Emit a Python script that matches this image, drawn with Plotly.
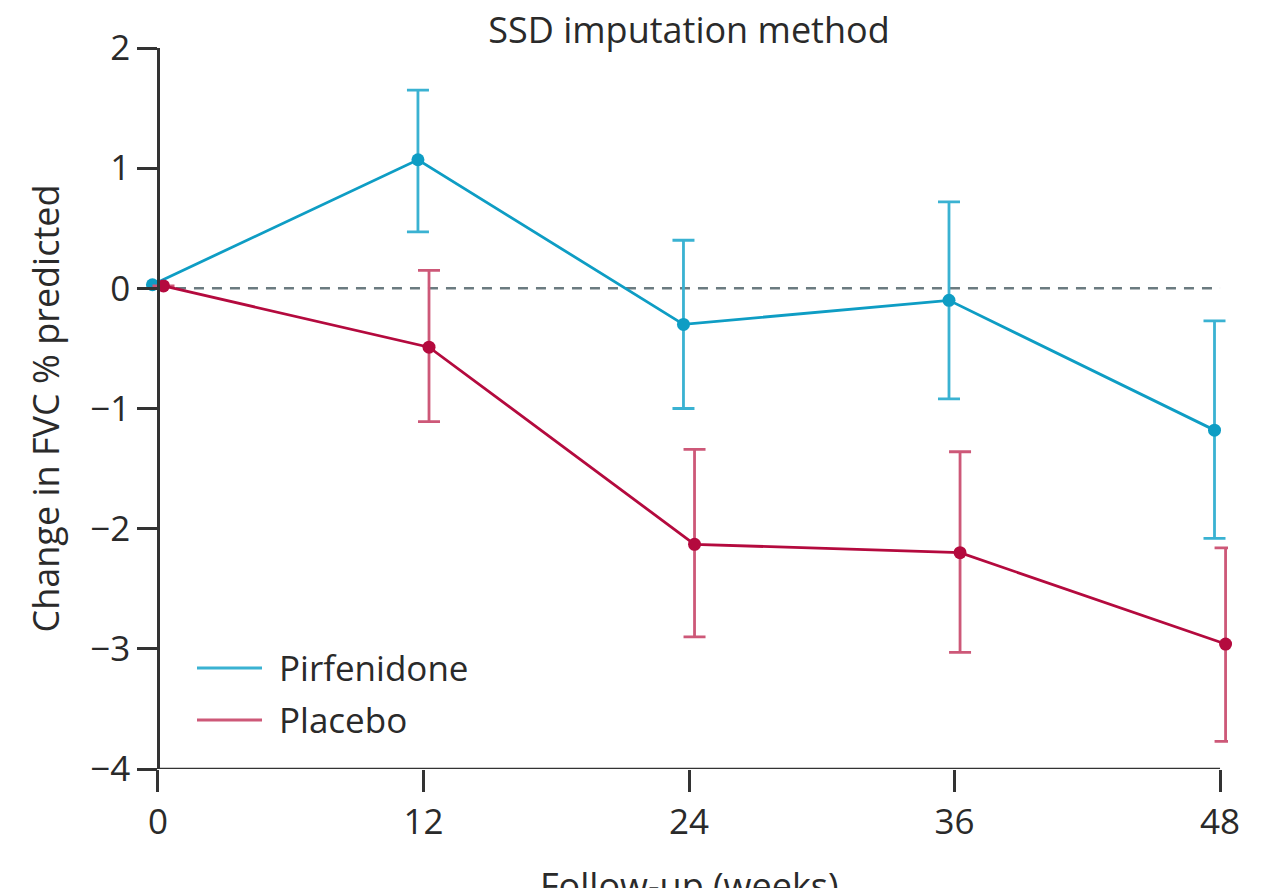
import plotly.graph_objects as go

weeks = [0, 12, 24, 36, 48]
offset = 0.25

pirf_mean = [0.03, 1.07, -0.30, -0.10, -1.18]
pirf_upper = [0.03, 1.65, 0.40, 0.72, -0.27]
pirf_lower = [0.03, 0.47, -1.00, -0.92, -2.08]

plac_mean = [0.02, -0.49, -2.13, -2.20, -2.96]
plac_upper = [0.02, 0.15, -1.34, -1.36, -2.16]
plac_lower = [0.02, -1.11, -2.90, -3.03, -3.77]

x_ticks = [0, 12, 24, 36, 48]
y_ticks = [2, 1, 0, -1, -2, -3, -4]

PIRF_LINE = "#0E9DC4"
PIRF_ERR = "#3AB2D2"
PLAC_LINE = "#B40A3E"
PLAC_ERR = "#CD5878"
AXIS_C = "#333333"
TEXT_C = "#2a2a2a"
FONT = "Open Sans"
PAD = 0.36

fig = go.Figure()

def add_series(name, mean, upper, lower, shift, line_c, err_c):
    xs = [w + shift for w in weeks]
    plus = [u - m for u, m in zip(upper, mean)]
    minus = [m - l for m, l in zip(mean, lower)]
    fig.add_trace(go.Scatter(
        x=xs, y=mean, mode="lines+markers", name=name,
        line=dict(color=line_c, width=2.8),
        marker=dict(color=line_c, size=13),
        error_y=dict(type="data", symmetric=False, array=plus, arrayminus=minus,
                     color=err_c, thickness=2.8, width=11),
        cliponaxis=False, showlegend=False,
    ))

add_series("Pirfenidone", pirf_mean, pirf_upper, pirf_lower, -offset, PIRF_LINE, PIRF_ERR)
add_series("Placebo", plac_mean, plac_upper, plac_lower, offset, PLAC_LINE, PLAC_ERR)

# zero reference line
fig.add_shape(type="line", xref="x", yref="y", x0=0, x1=48, y0=0, y1=0,
              line=dict(color="#6B7B80", width=2.5, dash="10px,8px"), layer="below")
# x axis baseline from 0 to 48
fig.add_shape(type="line", xref="x", yref="y", x0=0, x1=48, y0=-4, y1=-4,
              line=dict(color=AXIS_C, width=2.5), layer="above")

# manual legend
legend_items = [("Pirfenidone", PIRF_ERR, 0.1401), ("Placebo", PLAC_ERR, 0.068)]
for label, col, yp in legend_items:
    fig.add_shape(type="line", xref="paper", yref="paper", x0=0.0436, x1=0.1039,
                  y0=yp, y1=yp, line=dict(color=col, width=3))
    fig.add_annotation(text=label, xref="paper", yref="paper", x=0.1178, y=yp,
                       xanchor="left", yanchor="middle", showarrow=False,
                       font=dict(family=FONT, size=35, color=TEXT_C))

# axis titles
fig.add_annotation(text="Follow-up (weeks)", xref="paper", yref="paper", x=0.5, y=-0.125,
                   xanchor="center", yanchor="top", showarrow=False,
                   font=dict(family=FONT, size=36, color=TEXT_C))
fig.add_annotation(text="Change in FVC % predicted", xref="paper", yref="paper",
                   x=-0.0974, y=0.5, xanchor="center", yanchor="middle", textangle=-90,
                   showarrow=False, font=dict(family=FONT, size=36, color=TEXT_C))

fig.update_layout(
    width=1263, height=888,
    margin=dict(l=150, r=35, t=48, b=119),
    paper_bgcolor="white", plot_bgcolor="white",
    title=dict(text="SSD imputation method", x=0.5455, xanchor="center",
               y=1 - 30 / 888, yanchor="middle", yref="container",
               font=dict(family=FONT, size=36, color=TEXT_C)),
    font=dict(family=FONT, size=36, color=TEXT_C),
)
fig.update_xaxes(range=[-PAD, 48 + PAD], tickvals=x_ticks, ticks="outside", ticklen=22,
                 tickwidth=2.5, tickcolor=AXIS_C, showline=False,
                 showgrid=False, zeroline=False, tickfont=dict(family=FONT, size=35))
fig.update_yaxes(range=[-4, 2], tickvals=y_ticks, ticks="outside", ticklen=20, tickwidth=2.5,
                 tickcolor=AXIS_C, showline=True, linecolor=AXIS_C, linewidth=2.5,
                 anchor="free", position=PAD / (48 + 2 * PAD),
                 showgrid=False, zeroline=False, tickfont=dict(family=FONT, size=35))

fig.write_html("out.html")
